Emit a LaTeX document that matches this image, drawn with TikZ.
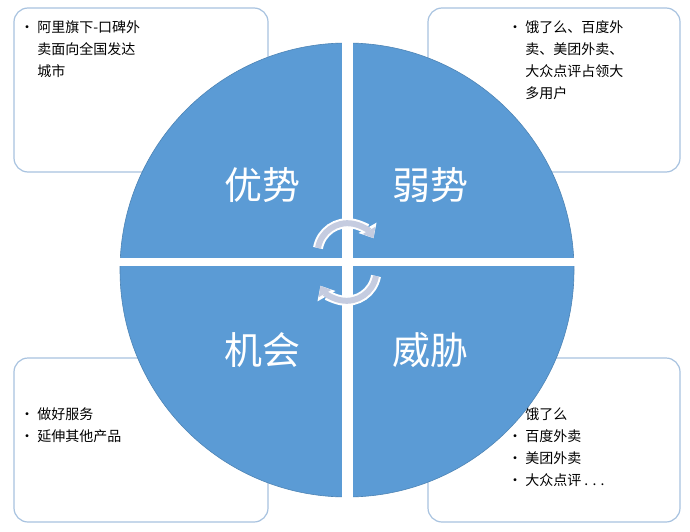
\documentclass[tikz,border=0pt]{standalone}
\usepackage{fontspec}
\newfontfamily\cjk{Noto Sans CJK SC}
\usetikzlibrary{arrows.meta}
\definecolor{cblue}{HTML}{5B9BD5}
\definecolor{bord}{HTML}{A8C3E0}
\definecolor{arr}{HTML}{C5CCE0}
\begin{document}
\begin{tikzpicture}[x=1pt,y=-1pt,
  box/.style={draw=bord,line width=1.2pt,rounded corners=14pt,fill=white},
  big/.style={text=white,font=\cjk\fontsize{38}{40}\selectfont},
  txt/.style={anchor=north west,align=left,font=\cjk\fontsize{14}{22}\selectfont,text=black,inner sep=0pt}]
\useasboundingbox (0,0) rectangle (690,532);
\fill[white] (0,0) rectangle (690,532);
\node[box,minimum width=254pt,minimum height=164pt] (tl) at (141,90) {};
\node[box,minimum width=252pt,minimum height=164pt] (tr) at (554,90) {};
\node[box,minimum width=254pt,minimum height=164pt] (bl) at (141,440) {};
\node[box,minimum width=252pt,minimum height=164pt] (br) at (554,440) {};
\node[txt] (t1) at (20,20) {• 阿里旗下-口碑外\\\phantom{• }卖面向全国发达\\\phantom{• }城市};
\node[txt] (t2) at (508,20) {• 饿了么、百度外\\\phantom{• }卖、美团外卖、\\\phantom{• }大众点评占领大\\\phantom{• }多用户};
\node[txt] (t3) at (20,408) {• 做好服务\\• 延伸其他产品};
\node[txt] (t4) at (508,408) {• 饿了么\\• 百度外卖\\• 美团外卖\\• 大众点评 . . .};
\node[circle,fill=cblue,draw=cblue!85!black,line width=0.6pt,minimum size=454pt,inner sep=0pt] (c) at (347,270) {};
\fill[white] (341.5,40) rectangle (352.5,500);
\fill[white] (115,258) rectangle (580,266);
\node[big] (s) at (262,185) {优势};
\node[big] (w) at (430,185) {弱势};
\node[big] (o) at (262,350) {机会};
\node[big] (th) at (430,350) {威胁};
\coordinate (a1) at (318,248);
\coordinate (a2) at (376,276);
\draw[white,line width=10pt,-{Triangle[width=20pt,length=12pt]}] (a1) arc[start angle=190,end angle=330,radius=30];
\draw[arr,line width=6pt,-{Triangle[width=14pt,length=9pt]}] (a1) arc[start angle=190,end angle=330,radius=30];
\draw[white,line width=10pt,-{Triangle[width=20pt,length=12pt]}] (a2) arc[start angle=10,end angle=150,radius=30];
\draw[arr,line width=6pt,-{Triangle[width=14pt,length=9pt]}] (a2) arc[start angle=10,end angle=150,radius=30];
\end{tikzpicture}
\end{document}
